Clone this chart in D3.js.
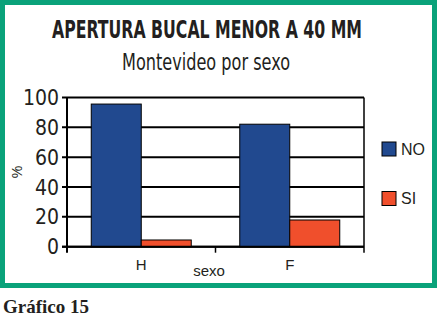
<!DOCTYPE html>
<meta charset="utf-8">
<style>
body { margin: 0; background: #fff; }
.cond { font-family: "Liberation Sans Narrow", "DejaVu Sans Condensed", "Roboto", sans-serif; }
.arial { font-family: "Liberation Sans", Arial, sans-serif; }
</style>
<svg width="438" height="320"></svg>
<script src="https://d3js.org/d3.v7.min.js"></script>
<script>

var categories = ["H", "F"];
var seriesNames = ["NO", "SI"];
var noValues = [95.6, 82.1];
var siValues = [4.5, 17.9];
var yTicks = [0, 20, 40, 60, 80, 100];
var colors = ["#21498f", "#f04f2c"];

var svg = d3.select("svg");

// green frame
svg.append("rect")
  .attr("x", 2.5).attr("y", 2.5)
  .attr("width", 432).attr("height", 283)
  .attr("fill", "#fff")
  .attr("stroke", "#0aa27a")
  .attr("stroke-width", 5);

var plotLeft = 67, plotRight = 364, plotTop = 97.5, plotBottom = 246.7;

var x0 = d3.scaleBand().domain(categories).range([plotLeft, plotRight]);
var x1 = d3.scaleBand().domain(seriesNames).range([0, x0.bandwidth()]).paddingOuter(0.485);
var y = d3.scaleLinear().domain([0, 100]).range([plotBottom, plotTop]);

var data = categories.map(function(c, i) {
  return { cat: c, values: [noValues[i], siValues[i]] };
});

// grid lines
svg.append("g").selectAll("line")
  .data(yTicks)
  .enter().append("line")
  .attr("x1", plotLeft - 5).attr("x2", plotRight)
  .attr("y1", function(d) { return y(d); })
  .attr("y2", function(d) { return y(d); })
  .attr("stroke", "#000")
  .attr("stroke-width", 2);

// right border
svg.append("line")
  .attr("x1", plotRight).attr("x2", plotRight)
  .attr("y1", plotTop).attr("y2", plotBottom + 6)
  .attr("stroke", "#000").attr("stroke-width", 1.5);

// y axis line
svg.append("line")
  .attr("x1", plotLeft).attr("x2", plotLeft)
  .attr("y1", plotTop).attr("y2", plotBottom + 6)
  .attr("stroke", "#000").attr("stroke-width", 2);

// x tick between categories
svg.append("g").selectAll("line")
  .data(categories.slice(1))
  .enter().append("line")
  .attr("x1", function(d) { return x0(d); }).attr("x2", function(d) { return x0(d); })
  .attr("y1", plotBottom).attr("y2", plotBottom + 6)
  .attr("stroke", "#000").attr("stroke-width", 1.5);

// bars
var groups = svg.append("g").selectAll("g")
  .data(data)
  .enter().append("g")
  .attr("transform", function(d) { return "translate(" + x0(d.cat) + ",0)"; });

groups.selectAll("rect")
  .data(function(d) { return d.values; })
  .enter().append("rect")
  .attr("x", function(d, i) { return x1(seriesNames[i]); })
  .attr("y", function(d) { return y(d); })
  .attr("width", x1.bandwidth())
  .attr("height", function(d) { return plotBottom - y(d); })
  .attr("fill", function(d, i) { return colors[i]; })
  .attr("stroke", "#000")
  .attr("stroke-width", 1);

// redraw zero line over bars
svg.append("line")
  .attr("x1", plotLeft - 5).attr("x2", plotRight)
  .attr("y1", plotBottom).attr("y2", plotBottom)
  .attr("stroke", "#000").attr("stroke-width", 2);

// y tick labels
svg.append("g").selectAll("text")
  .data(yTicks)
  .enter().append("text")
  .attr("class", "cond")
  .attr("x", 59)
  .attr("y", function(d) { return y(d); })
  .attr("dy", "0.36em")
  .attr("text-anchor", "end")
  .attr("font-size", 21)
  .attr("fill", "#231f20")
  .text(function(d) { return d; });

// y axis title
svg.append("text")
  .attr("class", "arial")
  .attr("transform", "translate(22,172) rotate(-90)")
  .attr("text-anchor", "middle")
  .attr("font-size", 14)
  .attr("fill", "#231f20")
  .text("%");

// x labels
svg.append("g").selectAll("text")
  .data(categories)
  .enter().append("text")
  .attr("class", "arial")
  .attr("x", function(d) { return x0(d) + x0.bandwidth() / 2; })
  .attr("y", 270)
  .attr("text-anchor", "middle")
  .attr("font-size", 15)
  .attr("fill", "#231f20")
  .text(function(d) { return d; });

svg.append("text")
  .attr("class", "arial")
  .attr("x", 209).attr("y", 276)
  .attr("text-anchor", "middle")
  .attr("font-size", 15)
  .attr("fill", "#231f20")
  .text("sexo");

// legend
var legend = svg.append("g").selectAll("g")
  .data(seriesNames)
  .enter().append("g")
  .attr("transform", function(d, i) { return "translate(382," + (142 + i * 49.5) + ")"; });

legend.append("rect")
  .attr("width", 14).attr("height", 14)
  .attr("fill", function(d, i) { return colors[i]; })
  .attr("stroke", "#000").attr("stroke-width", 1);

legend.append("text")
  .attr("class", "arial")
  .attr("x", 19).attr("y", 7)
  .attr("dy", "0.36em")
  .attr("font-size", 16)
  .attr("fill", "#231f20")
  .text(function(d) { return d; });

// titles
svg.append("text")
  .attr("class", "cond")
  .attr("x", 207).attr("y", 38)
  .attr("text-anchor", "middle")
  .attr("font-size", 24)
  .attr("font-weight", "bold")
  .attr("fill", "#231f20")
  .attr("textLength", 310)
  .attr("lengthAdjust", "spacingAndGlyphs")
  .text("APERTURA BUCAL MENOR A 40 MM");

svg.append("text")
  .attr("class", "cond")
  .attr("x", 206).attr("y", 70)
  .attr("text-anchor", "middle")
  .attr("font-size", 23)
  .attr("fill", "#231f20")
  .attr("textLength", 168)
  .attr("lengthAdjust", "spacingAndGlyphs")
  .text("Montevideo por sexo");

svg.append("text")
  .attr("x", 3).attr("y", 313)
  .attr("font-family", "Liberation Serif, DejaVu Serif, serif")
  .attr("font-size", 19)
  .attr("font-weight", "bold")
  .attr("fill", "#231f20")
  .text("Gráfico 15");

</script>
